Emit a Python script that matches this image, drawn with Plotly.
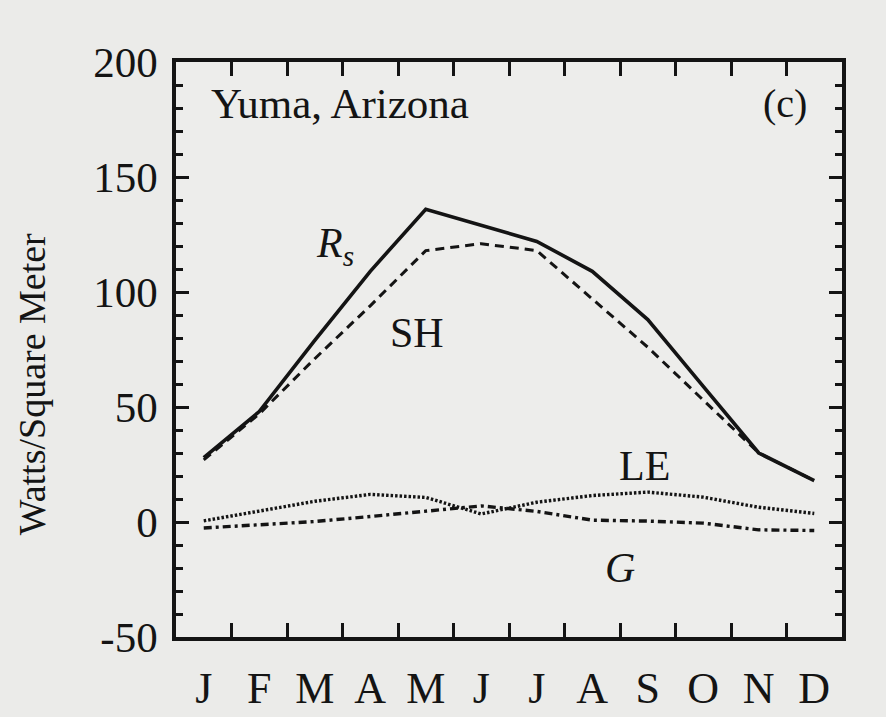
import numpy as np
import plotly.graph_objects as go

months = ["J", "F", "M", "A", "M", "J", "J", "A", "S", "O", "N", "D"]
rs = [28, 48, 79, 109, 136, 129, 122, 109, 88, 59, 30, 18]
sh = [27, 47, 71, 94, 118, 121, 118, 97, 76, 53, 30, 18]
le = [0.5, 4.6, 9, 12, 10.7, 3.5, 8.6, 11.5, 13, 10.8, 6.4, 3.7]
g = [-2.6, -1.3, 0.2, 2.4, 4.6, 7, 4.6, 0.8, 0.4, -0.5, -3.4, -3.7]
y_ticks = [-50, 0, 50, 100, 150, 200]
y_ticktext = ["-50", "0", "50", "100", "150", "200"]

x = np.arange(len(months))
FONT = "Liberation Serif"
INK = "#141414"

fig = go.Figure()
fig.add_trace(go.Scatter(x=x, y=sh, mode="lines",
                         line=dict(color=INK, width=3, dash="9px,6px")))
fig.add_trace(go.Scatter(x=x, y=rs, mode="lines",
                         line=dict(color=INK, width=3.6)))
fig.add_trace(go.Scatter(x=x, y=le, mode="lines",
                         line=dict(color=INK, width=3.4, dash="2.5px,2px")))
fig.add_trace(go.Scatter(x=x, y=g, mode="lines",
                         line=dict(color=INK, width=3.4, dash="8px,4px,3px,4px")))

ann = [
    dict(x=0.1, y=182, text="Yuma, Arizona", xanchor="left", size=43),
    dict(x=10.47, y=182, text="(c)", xanchor="center", size=40),
    dict(x=2.36, y=120, text="<i>R<sub>s</sub></i>", xanchor="center", size=42),
    dict(x=3.84, y=82, text="SH", xanchor="center", size=42),
    dict(x=7.95, y=24.5, text="LE", xanchor="center", size=42),
    dict(x=7.5, y=-20, text="<i>G</i>", xanchor="center", size=42),
]
for a in ann:
    fig.add_annotation(x=a["x"], y=a["y"], text=a["text"], xanchor=a["xanchor"],
                       yanchor="middle", showarrow=False,
                       font=dict(family=FONT, size=a["size"], color=INK))

fig.add_annotation(x=-0.216, y=0.44, xref="paper", yref="paper",
                   text="Watts/Square Meter", textangle=-90, showarrow=False,
                   xanchor="center", yanchor="middle",
                   font=dict(family=FONT, size=38, color=INK))

fig.update_layout(
    width=886, height=717,
    margin=dict(l=176, r=44, t=62, b=80),
    paper_bgcolor="#ebebe9",
    plot_bgcolor="#ededeb",
    showlegend=False,
    font=dict(family=FONT, color=INK),
)
fig.update_xaxes(
    range=[-0.5, 11.5], tickvals=x, ticktext=months,
    ticks="inside", ticklen=0, showgrid=False, zeroline=False,
    showline=True, linewidth=3.5, linecolor=INK, mirror="allticks",
    tickfont=dict(size=44, family=FONT, color=INK),
    ticklabelstandoff=9, automargin=False,
    minor=dict(tickvals=list(x[:-1] + 0.5), ticks="inside", ticklen=14,
               tickwidth=2.5, tickcolor=INK, showgrid=False),
)
fig.update_yaxes(
    range=[-50, 200], tickvals=y_ticks, ticktext=y_ticktext,
    ticks="inside", ticklen=13, tickwidth=2.5, tickcolor=INK,
    showgrid=False, zeroline=False, automargin=False,
    showline=True, linewidth=3.5, linecolor=INK, mirror="allticks",
    tickfont=dict(size=43, family=FONT, color=INK),
    ticklabelstandoff=6,
    minor=dict(dtick=10, ticks="inside", ticklen=7, tickwidth=2.5,
               tickcolor=INK, showgrid=False),
)

fig.write_html("out.html")
